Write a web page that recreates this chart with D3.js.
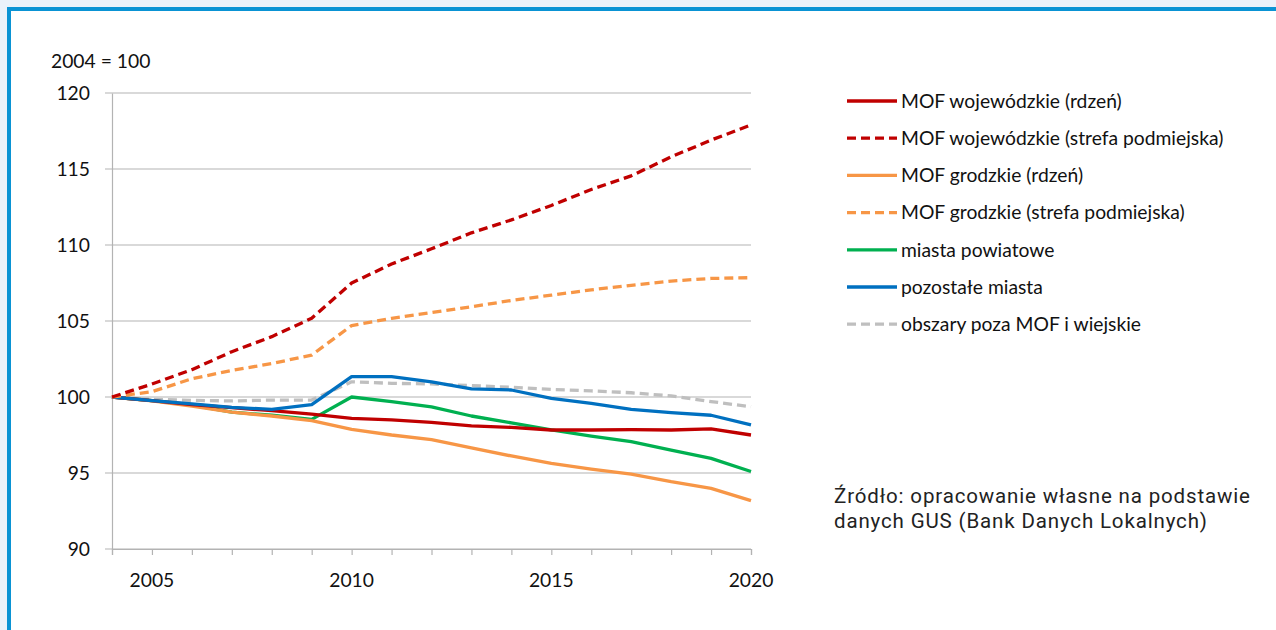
<!DOCTYPE html>
<html lang="pl">
<head>
  <meta charset="UTF-8" />
  <script src="https://unpkg.com/d3@7/dist/d3.min.js"></script>
  <title>Ludność 2004 = 100</title>
  <style>
    body { margin: 0; background: #eaf2fa; }
    svg { display: block; }
  </style>
</head>
<body>
  <svg width="1276" height="630"></svg>
  <script>
    // years on the x axis
    const years = d3.range(2004, 2021);
    const xLabels = [2005, 2010, 2015, 2020];
    const yTicks = [90, 95, 100, 105, 110, 115, 120];

    const seriesNames = [
      "MOF wojewódzkie (rdzeń)",
      "MOF wojewódzkie (strefa podmiejska)",
      "MOF grodzkie (rdzeń)",
      "MOF grodzkie (strefa podmiejska)",
      "miasta powiatowe",
      "pozostałe miasta",
      "obszary poza MOF i wiejskie"
    ];

    const wojRdzen   = [100, 99.76, 99.5, 99.3, 99.1, 98.88, 98.6, 98.49, 98.33, 98.1, 98.0, 97.83, 97.83, 97.85, 97.83, 97.9, 97.5];
    const wojStrefa  = [100, 100.85, 101.8, 102.98, 103.97, 105.18, 107.5, 108.75, 109.75, 110.8, 111.65, 112.6, 113.65, 114.55, 115.8, 116.9, 117.9];
    const grodRdzen  = [100, 99.75, 99.4, 99.0, 98.75, 98.44, 97.87, 97.5, 97.2, 96.65, 96.12, 95.64, 95.26, 94.93, 94.43, 93.99, 93.18];
    const grodStrefa = [100, 100.35, 101.2, 101.75, 102.2, 102.76, 104.7, 105.18, 105.55, 105.94, 106.35, 106.7, 107.05, 107.35, 107.63, 107.8, 107.85];
    const powiatowe  = [100, 99.76, 99.47, 99.0, 98.8, 98.53, 100.0, 99.7, 99.35, 98.75, 98.3, 97.83, 97.43, 97.06, 96.5, 95.96, 95.1];
    const pozostale  = [100, 99.76, 99.55, 99.32, 99.19, 99.5, 101.34, 101.34, 101.0, 100.53, 100.46, 99.91, 99.58, 99.19, 98.97, 98.8, 98.16];
    const obszary    = [100, 99.85, 99.78, 99.74, 99.8, 99.8, 101.0, 100.9, 100.86, 100.75, 100.64, 100.5, 100.4, 100.28, 100.07, 99.7, 99.36];

    const seriesValues = [wojRdzen, wojStrefa, grodRdzen, grodStrefa, powiatowe, pozostale, obszary];
    const colors = ["#c00000", "#c00000", "#f79646", "#f79646", "#00b050", "#0070c0", "#bfbfbf"];
    const dashed = [false, true, false, true, false, false, true];

    const svg = d3.select("svg");
    const chartFont = "Lato, 'Open Sans', sans-serif";
    const fs = 19.3;

    // white panel with blue frame (top and left only)
    svg.append("rect").attr("x", 11).attr("y", 11).attr("width", 1265).attr("height", 619).attr("fill", "#fff");
    svg.append("rect").attr("x", 7).attr("y", 7).attr("width", 1269).attr("height", 4).attr("fill", "#0a93d4");
    svg.append("rect").attr("x", 7).attr("y", 7).attr("width", 4).attr("height", 623).attr("fill", "#0a93d4");

    const x = d3.scaleLinear().domain([2004, 2020]).range([112, 751]);
    const y = d3.scaleLinear().domain([90, 120]).range([549, 93]);

    // gridlines
    svg.append("g")
      .selectAll("line")
      .data(yTicks)
      .join("line")
      .attr("x1", 105).attr("x2", 751)
      .attr("y1", d => y(d)).attr("y2", d => y(d))
      .attr("stroke", "#b3b3b3").attr("stroke-width", 1.2);

    // y axis
    const yAxis = svg.append("g")
      .attr("transform", "translate(112,0)")
      .call(d3.axisLeft(y).tickValues(yTicks).tickSize(0).tickPadding(22));
    yAxis.select(".domain").attr("stroke", "#b3b3b3").attr("stroke-width", 1.2);
    yAxis.selectAll("text").attr("font-family", chartFont).attr("font-size", fs).attr("fill", "#111");

    // x axis
    const xAxis = svg.append("g")
      .attr("transform", "translate(0,549)")
      .call(d3.axisBottom(x).tickValues(years).tickSize(6).tickFormat(""));
    xAxis.select(".domain").attr("stroke", "#b3b3b3").attr("stroke-width", 1.2);
    xAxis.selectAll("line").attr("stroke", "#b3b3b3").attr("stroke-width", 1.2);

    svg.append("g")
      .selectAll("text")
      .data(xLabels)
      .join("text")
      .attr("x", d => x(d))
      .attr("y", 587)
      .attr("text-anchor", "middle")
      .attr("font-family", chartFont).attr("font-size", fs).attr("fill", "#111")
      .text(d => d);

    svg.append("text")
      .attr("x", 51).attr("y", 68)
      .attr("font-family", chartFont).attr("font-size", fs).attr("fill", "#111")
      .text("2004 = 100");

    // lines
    const line = d3.line().x((d, i) => x(years[i])).y(d => y(d));
    const drawOrder = [6, 4, 2, 0, 5, 3, 1];
    svg.append("g")
      .selectAll("path")
      .data(drawOrder)
      .join("path")
      .attr("d", k => line(seriesValues[k]))
      .attr("fill", "none")
      .attr("stroke", k => colors[k])
      .attr("stroke-width", 3.3)
      .attr("stroke-linejoin", "round")
      .attr("stroke-dasharray", k => dashed[k] ? "9,5" : null);

    // legend
    const legend = svg.append("g")
      .selectAll("g")
      .data(seriesNames)
      .join("g")
      .attr("transform", (d, i) => `translate(847,${101 + i * 37.2})`);
    legend.append("line")
      .attr("x1", 0).attr("x2", 50)
      .attr("stroke", (d, i) => colors[i])
      .attr("stroke-width", 3.3)
      .attr("stroke-dasharray", (d, i) => dashed[i] ? "9,5" : null);
    legend.append("text")
      .attr("x", 54).attr("dy", "0.35em")
      .attr("font-family", chartFont).attr("font-size", fs).attr("fill", "#111")
      .text(d => d);

    // source
    svg.append("text")
      .attr("font-family", "Roboto, sans-serif").attr("font-size", 20.5).attr("fill", "#222")
      .attr("letter-spacing", 0.85)
      .selectAll("tspan")
      .data(["Źródło: opracowanie własne na podstawie", "danych GUS (Bank Danych Lokalnych)"])
      .join("tspan")
      .attr("x", 834)
      .attr("y", (d, i) => 503 + i * 25)
      .text(d => d);
  </script>
</body>
</html>
